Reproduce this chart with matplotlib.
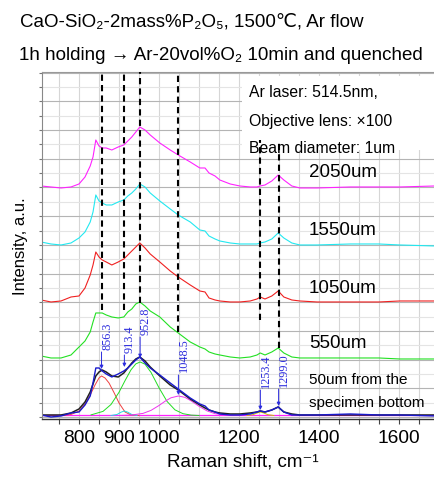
import matplotlib
matplotlib.use('Agg')
import matplotlib.pyplot as plt
from matplotlib.ticker import FixedLocator, NullFormatter
from matplotlib.patches import Rectangle

plt.rcParams['font.family'] = ['Liberation Sans', 'DejaVu Sans']

# ---------------- data ----------------
shift = [705, 730, 755, 780, 800, 815, 828, 835, 842, 850, 858, 868, 882, 898, 912,
         922, 932, 942, 952, 965, 978, 1002, 1028, 1048, 1078, 1102, 1115, 1125, 1140,
         1152, 1178, 1202, 1228, 1245, 1253, 1265, 1282, 1298, 1312, 1332, 1352, 1395,
         1478, 1550, 1602, 1690]

i_2050 = [233, 232, 231, 232, 235, 242, 253, 262, 279, 273, 271, 271, 269, 272, 274,
          278, 282, 287, 292, 289, 284, 276, 269, 264, 257, 251, 251, 246, 243,
          239, 235, 233, 232, 232, 233, 234, 238, 244, 239, 233, 231, 231,
          232, 232, 232, 233]

i_1550 = [177, 175, 174, 176, 181, 187, 197, 207, 224, 218, 216, 214, 214, 217, 219,
          223, 226, 230, 235, 232, 226, 218, 210, 204, 197, 189, 188, 183, 180,
          178, 176, 175, 175, 175, 176, 177, 180, 186, 181, 176, 174, 174,
          175, 175, 174, 173]

i_1050 = [119, 117, 118, 122, 123, 131, 144, 154, 167, 162, 159, 157, 154, 157, 160,
          164, 168, 172, 176, 171, 165, 157, 148, 142, 134, 128, 127, 121, 119,
          118, 117, 117, 118, 120, 122, 120, 123, 128, 122, 119, 118, 117,
          117, 117, 118, 118]

i_550 = [63, 61, 61, 64, 72, 78, 87, 97, 106, 106, 106, 104, 102, 101, 102,
         107, 110, 115, 117, 113, 108, 102, 92, 86, 77, 72, 70, 67, 65,
         64, 62, 61, 62, 64, 66, 64, 67, 71, 66, 62, 61, 61,
         61, 61, 60, 60]

i_50 = [4, 2, 3, 6, 7, 14, 23, 36, 51, 51, 48, 45, 42, 45, 48,
        51, 55, 59, 62, 56, 51, 44, 36, 30, 21, 15, 13, 9, 7,
        5, 4, 4, 5, 7, 8, 7, 9, 12, 7, 4, 4, 4,
        5, 4, 4, 3]

fit_50 = [4, 4, 4, 6, 10, 17, 27, 35, 43, 47, 49, 47, 43, 42, 46,
          51, 56, 60, 62, 58, 52, 43, 34, 29, 20, 14, 11, 9, 7,
          6, 5, 5, 6, 7, 8, 7, 9, 12, 7, 5, 4, 4,
          4, 4, 4, 4]

baseline_50 = 3.5

comp1_x = [760, 780, 800, 815, 828, 840, 850, 856.3, 865, 875, 888, 900, 915, 930, 950]
comp1_y = [3.5, 4.5, 8, 15, 24, 34, 41, 43, 41, 36, 26, 16, 7, 4, 3.5]

comp2_x = [880, 895, 905, 913.4, 922, 932, 945]
comp2_y = [3.5, 4.5, 6.8, 8, 6.8, 4.5, 3.5]

comp3_x = [830, 860, 880, 900, 915, 930, 942, 952.8, 965, 980, 1000, 1020, 1040,
           1060, 1080, 1100]
comp3_y = [4.1, 7.6, 14.5, 26.7, 38.3, 49.2, 55.1, 57, 54.8, 46.6, 31.2, 17.6, 9.1,
           5.3, 3.9, 3.5]

comp4_x = [900, 930, 960, 980, 1000, 1015, 1030, 1048.5, 1065, 1080, 1100, 1120, 1140,
           1170, 1200]
comp4_y = [3.5, 3.9, 5.6, 8.6, 13.5, 17.7, 21.2, 23, 21.6, 18.2, 12.7, 8.1, 5.3,
           3.8, 3.5]

comp5_x = [1220, 1235, 1245, 1253.4, 1262, 1272, 1287]
comp5_y = [3.5, 4.3, 6, 7, 6, 4.3, 3.5]

peak_pos = [856.3, 913.4, 952.8, 1048.5, 1253.4, 1299.0]
peak_labels = ['856.3', '913.4', '952.8', '1048.5', '1253.4', '1299.0']

series_labels = ['2050um', '1550um', '1050um', '550um']

xtick_vals = [800, 900, 1000, 1200, 1400, 1600]
xminor_vals = [750, 850, 950, 1050, 1100, 1150, 1250, 1300, 1350, 1450, 1500, 1550, 1650]

# ---------------- figure ----------------
fig = plt.figure(figsize=(4.35, 4.79), dpi=100)
ax = fig.add_axes([0.0959, 0.1253, 0.9087, 0.7238])
ax.set_xlim(706.75, 1695)
ax.set_ylim(0, 346.7)

# grid & ticks
ax.xaxis.set_major_locator(FixedLocator(xtick_vals))
ax.xaxis.set_minor_locator(FixedLocator(xminor_vals))
ax.set_xticklabels([str(v) for v in xtick_vals])
ymaj = [1.9 + 28.7 * j for j in range(13)]
ymin = [16.25 + 28.7 * j for j in range(12)]
ax.yaxis.set_major_locator(FixedLocator(ymaj))
ax.yaxis.set_minor_locator(FixedLocator(ymin))
ax.yaxis.set_major_formatter(NullFormatter())
ax.grid(True, axis='x', which='both', color='#d6d6d6', lw=0.8)
ax.grid(True, axis='y', which='major', color='#b4b4b4', lw=0.8)
ax.grid(True, axis='y', which='minor', color='#e4e4e4', lw=0.8)
ax.set_axisbelow(True)
ax.tick_params(axis='x', which='both', direction='out', length=3.6, width=0.8,
               color='#444444', labelsize=13.8, pad=4)
ax.tick_params(axis='y', which='both', direction='out', length=2, width=0.8,
               color='#777777')
ax.spines['right'].set_visible(False)
ax.spines['top'].set_color('#999999')
ax.spines['left'].set_color('#888888')
ax.spines['bottom'].set_color('#333333')
ax.spines['bottom'].set_linewidth(1.0)

# white box behind instrument text
ax.add_patch(Rectangle((0.507, 0.776), 0.5, 0.213, transform=ax.transAxes,
                       facecolor='white', edgecolor='none', zorder=1.5))

# spectra
ax.plot(shift, i_2050, color='#ff22ff', lw=0.8, zorder=2)
ax.plot(shift, i_1550, color='#22e8f0', lw=0.8, zorder=2)
ax.plot(shift, i_1050, color='#f02020', lw=0.8, zorder=2)
ax.plot(shift, i_550, color='#22e022', lw=0.8, zorder=2)

# fitted components
ax.axhline(baseline_50, color='#ff22ff', lw=0.9, zorder=2)
ax.plot(comp1_x, comp1_y, color='#f04040', lw=0.7, zorder=2)
ax.plot(comp2_x, comp2_y, color='#22dddd', lw=0.7, zorder=2)
ax.plot(comp3_x, comp3_y, color='#22dd22', lw=0.7, zorder=2)
ax.plot(comp4_x, comp4_y, color='#ee33ee', lw=0.7, zorder=2)
ax.plot(comp5_x, comp5_y, color='#c8c000', lw=0.7, zorder=2)
ax.plot(shift, fit_50, color='#222222', lw=1.1, zorder=2.2)
ax.plot(shift, i_50, color='#1a1acc', lw=1.0, zorder=2.4)

# dashed guide lines
dash_top = [346.7, 346.7, 346.7, 346.7, 279, 279]
dash_bot = [109, 109, 116, 87, 99, 71]
for p, t, b in zip(peak_pos, dash_top, dash_bot):
    ax.plot([p, p], [b, t], color='black', lw=1.5, ls=(0, (3.0, 2.0)), zorder=3)

# peak annotations
lab_bottom = [69, 66, 84, 47, 31, 32]
arr_start = [67, 64, 82, 44, 29, 30]
arr_end = [50, 52, 61, 24, 9, 13]
blue = '#2b2bdd'
for p, s, lb, a0, a1 in zip(peak_pos, peak_labels, lab_bottom, arr_start, arr_end):
    ax.text(p - 1, lb, s, rotation=90, ha='left', va='bottom', color=blue,
            fontsize=8.8, family=['Liberation Serif', 'DejaVu Serif'], zorder=4)
    ax.annotate('', xy=(p, a1), xytext=(p, a0),
                arrowprops=dict(arrowstyle='-|>', color=blue, lw=0.7,
                                mutation_scale=5, shrinkA=0, shrinkB=0), zorder=4)

# series labels
lab_y = [246, 188, 130, 75]
for s, y in zip(series_labels, lab_y):
    ax.text(1375, y, s, fontsize=13.5, ha='left', va='center', zorder=4)
ax.text(1375, 39, '50um from the', fontsize=11, ha='left', va='center', zorder=4)
ax.text(1375, 16, 'specimen bottom', fontsize=11, ha='left', va='center', zorder=4)

# instrument text
ax.text(1225, 326, 'Ar laser: 514.5nm,', fontsize=11.3, ha='left', va='center', zorder=4)
ax.text(1225, 297, 'Objective lens: ×100', fontsize=11.3, ha='left', va='center', zorder=4)
ax.text(1225, 270, 'Beam diameter: 1um', fontsize=11.3, ha='left', va='center', zorder=4)

# titles
fig.text(0.046, 0.954, 'CaO-SiO₂-2mass%P₂O₅, 1500℃, Ar flow', fontsize=13.5,
         ha='left', va='center')
fig.text(0.044, 0.885, '1h holding → Ar-20vol%O₂ 10min and quenched', fontsize=13.5,
         ha='left', va='center')

# axis labels
fig.text(0.046, 0.486, 'Intensity, a.u.', rotation=90, fontsize=12,
         ha='center', va='center')
fig.text(0.558, 0.017, 'Raman shift, cm⁻¹', fontsize=13.5, ha='center', va='bottom')

fig.savefig('out.png', dpi=100)
